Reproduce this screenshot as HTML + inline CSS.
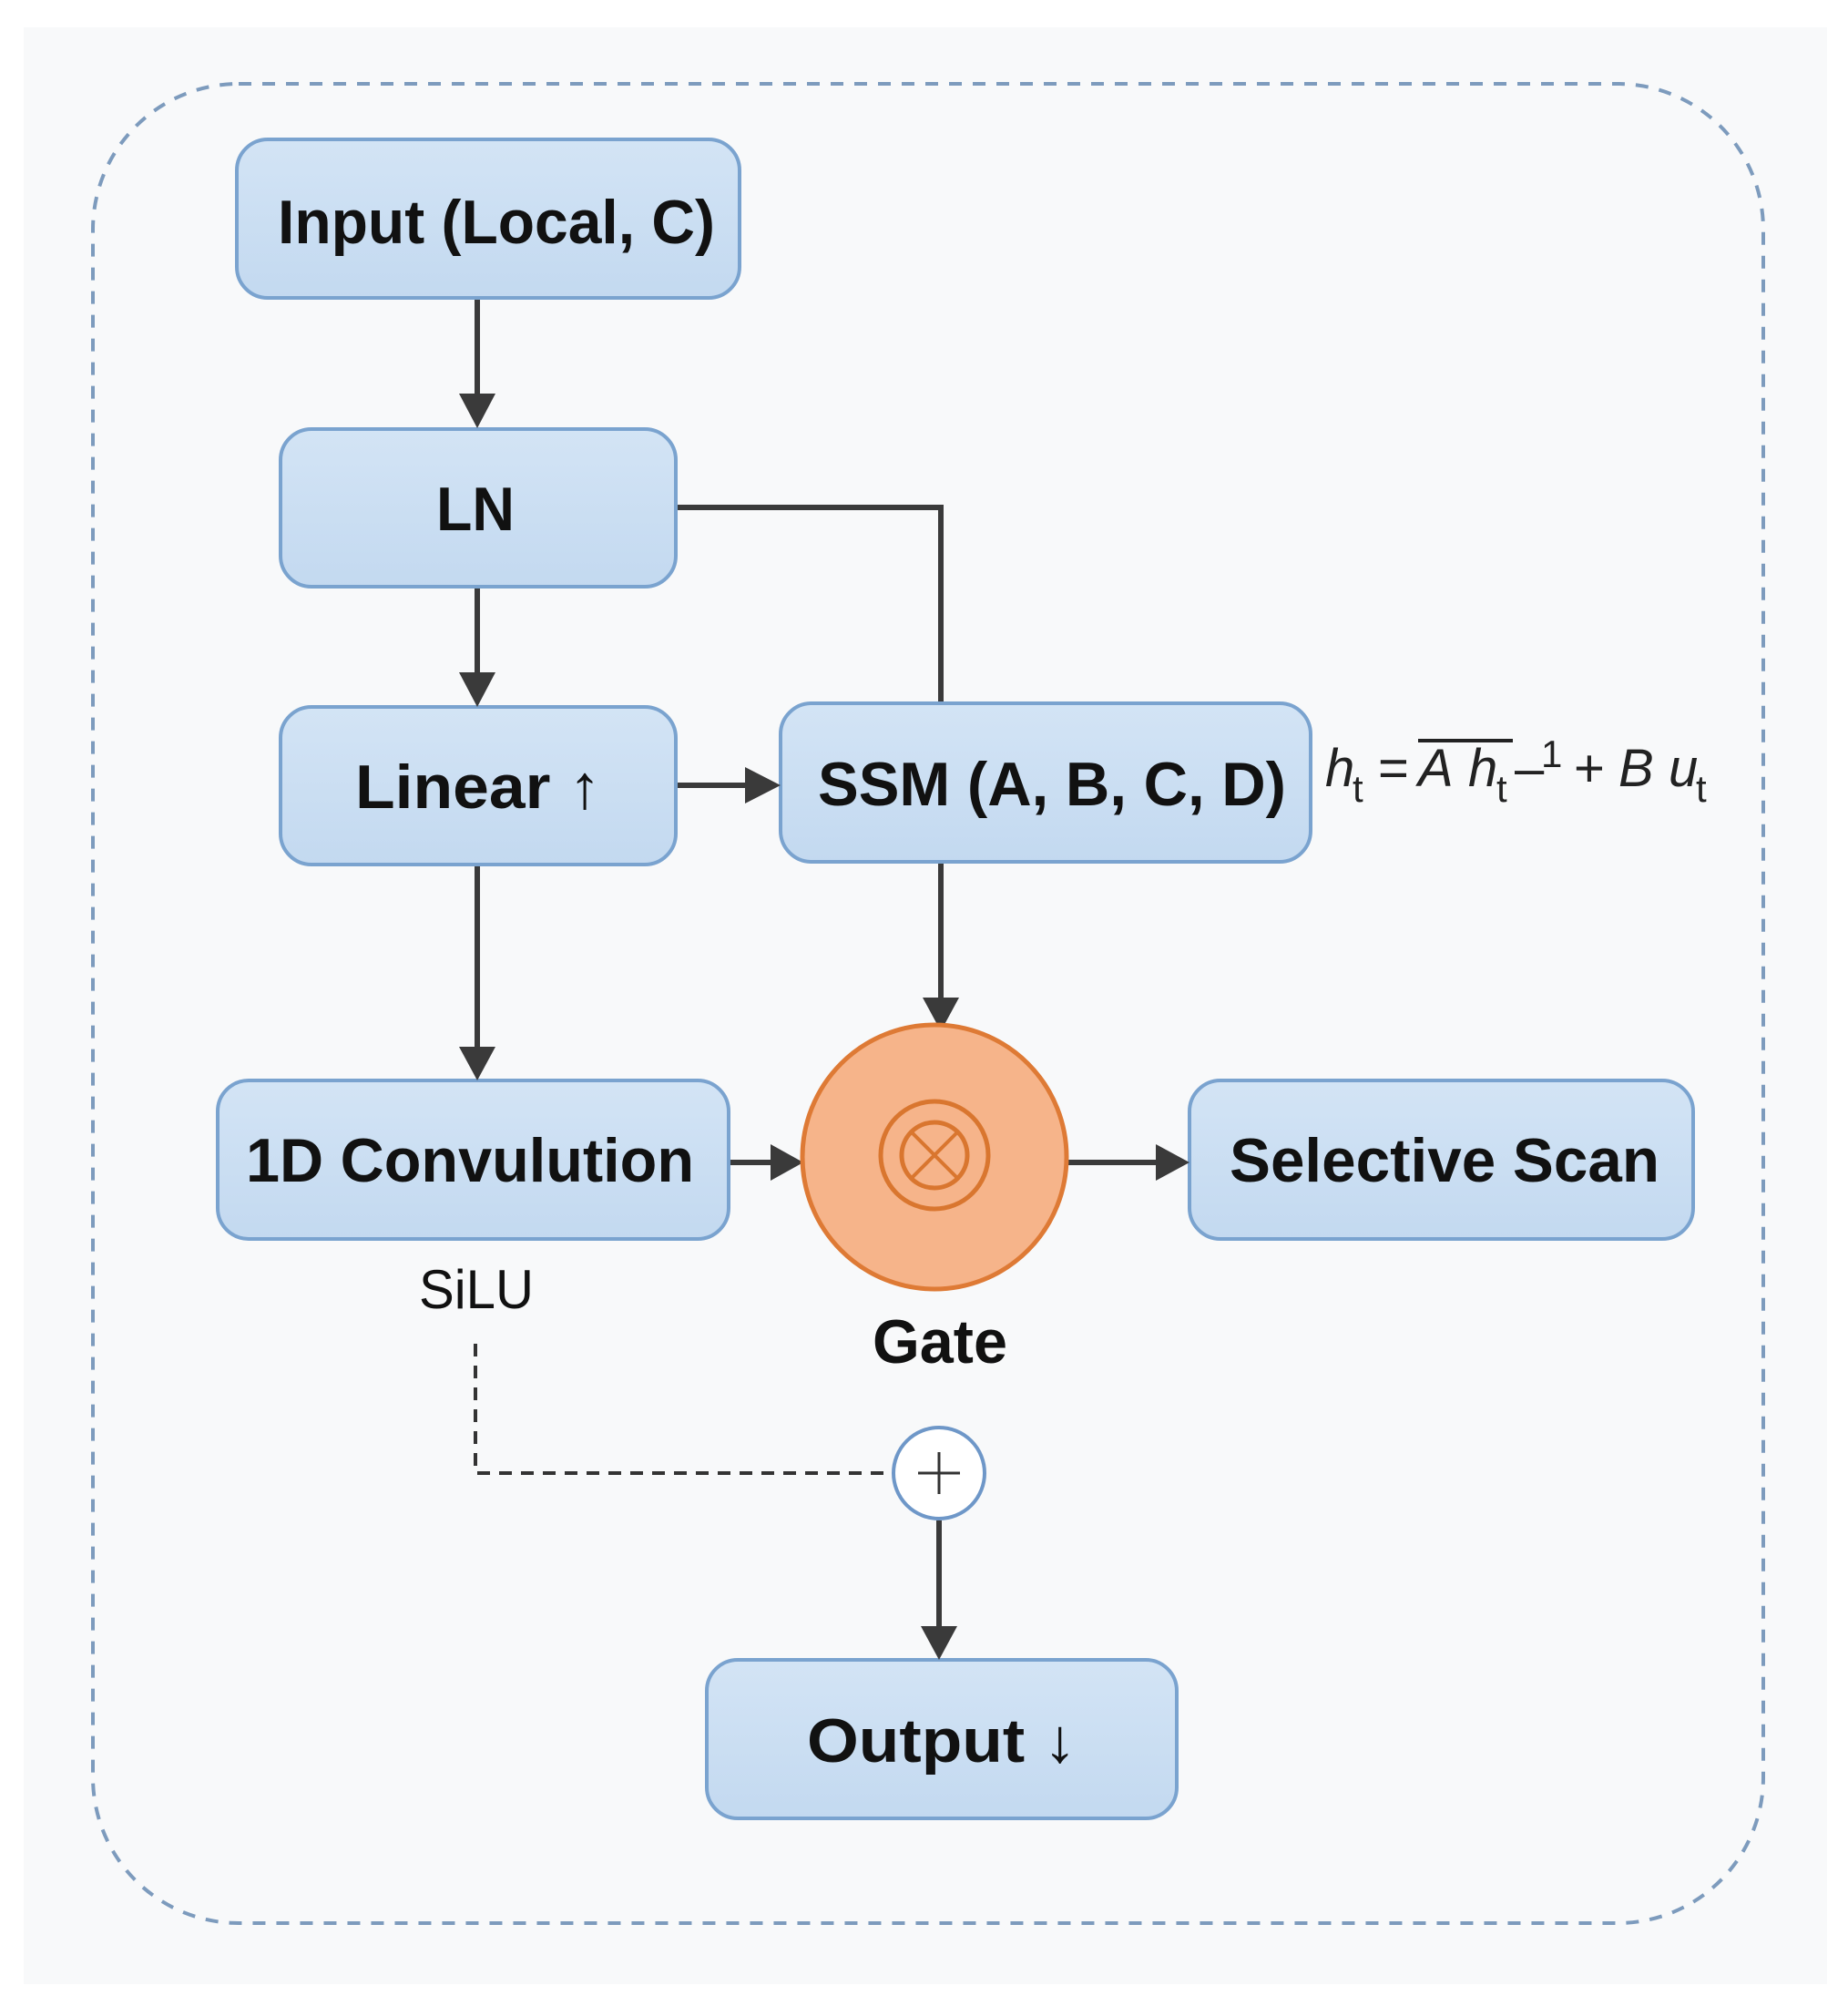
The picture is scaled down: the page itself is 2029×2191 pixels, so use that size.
<!DOCTYPE html>
<html><head><meta charset="utf-8"><style>
html,body{margin:0;padding:0;background:#fff;}
svg{display:block;}
</style></head><body>
<svg width="2029" height="2191" viewBox="0 0 2029 2191" xmlns="http://www.w3.org/2000/svg">
<defs>
<linearGradient id="bx" x1="0" y1="0" x2="0" y2="1">
<stop offset="0" stop-color="#d3e4f5"/><stop offset="1" stop-color="#c3d9f0"/>
</linearGradient>
</defs>
<rect x="26" y="30" width="1980" height="2148" fill="#f8f9fa"/>
<rect x="102" y="92" width="1834" height="2019" rx="160" ry="160" fill="none" stroke="#7d9bbd" stroke-width="4" stroke-dasharray="14 12"/>

<g fill="url(#bx)" stroke="#7aa3cf" stroke-width="4">
<rect x="260" y="153" width="552" height="174" rx="34"/>
<rect x="308" y="471" width="434" height="173" rx="34"/>
<rect x="308" y="776" width="434" height="173" rx="34"/>
<rect x="857" y="772" width="582" height="174" rx="34"/>
<rect x="239" y="1186" width="561" height="174" rx="34"/>
<rect x="1306" y="1186" width="553" height="174" rx="34"/>
<rect x="776" y="1822" width="516" height="174" rx="34"/>
</g>

<g stroke="#3a3a3a" stroke-width="6" fill="none">
<line x1="524" y1="329" x2="524" y2="432"/>
<line x1="524" y1="646" x2="524" y2="738"/>
<line x1="524" y1="951" x2="524" y2="1150"/>
<line x1="744" y1="862" x2="820" y2="862"/>
<polyline points="744,557 1033,557 1033,770"/>
<line x1="1033" y1="948" x2="1033" y2="1095"/>
<line x1="802" y1="1276" x2="848" y2="1276"/>
<line x1="1172" y1="1276" x2="1270" y2="1276"/>
<line x1="1031" y1="1669" x2="1031" y2="1785"/>
</g>
<g fill="#3a3a3a">
<polygon points="504,432 544,432 524,470"/>
<polygon points="504,738 544,738 524,776"/>
<polygon points="504,1149 544,1149 524,1186"/>
<polygon points="818,842 818,882 857,862"/>
<polygon points="1013,1095 1053,1095 1033,1132"/>
<polygon points="846,1256 846,1296 882,1276"/>
<polygon points="1269,1256 1269,1296 1306,1276"/>
<polygon points="1011,1785 1051,1785 1031,1822"/>
</g>

<circle cx="1026" cy="1270" r="145" fill="#f6b48a" stroke="#de7a35" stroke-width="5"/>
<circle cx="1026" cy="1268" r="59" fill="none" stroke="#d9762f" stroke-width="5"/>
<circle cx="1026" cy="1268" r="36" fill="none" stroke="#d9762f" stroke-width="5"/>
<line x1="1001" y1="1243" x2="1051" y2="1293" stroke="#d9762f" stroke-width="4"/>
<line x1="1051" y1="1243" x2="1001" y2="1293" stroke="#d9762f" stroke-width="4"/>

<polyline points="522,1475 522,1617 980,1617" fill="none" stroke="#333" stroke-width="4" stroke-dasharray="14 10"/>
<circle cx="1031" cy="1617" r="50" fill="#fff" stroke="#6e97c8" stroke-width="4"/>
<line x1="1008" y1="1617" x2="1054" y2="1617" stroke="#333" stroke-width="3"/>
<line x1="1031" y1="1594" x2="1031" y2="1640" stroke="#333" stroke-width="3"/>

<g font-family="Liberation Sans, sans-serif" font-weight="bold" font-size="68" fill="#111">
<text x="305" y="267" textLength="480" lengthAdjust="spacingAndGlyphs">Input (Local, C)</text>
<text x="479" y="582" textLength="86" lengthAdjust="spacingAndGlyphs">LN</text>
<text x="390" y="887" textLength="270" lengthAdjust="spacingAndGlyphs">Linear ↑</text>
<text x="898" y="884" textLength="514" lengthAdjust="spacingAndGlyphs">SSM (A, B, C, D)</text>
<text x="270" y="1297" textLength="492" lengthAdjust="spacingAndGlyphs">1D Convulution</text>
<text x="1350" y="1297" textLength="472" lengthAdjust="spacingAndGlyphs">Selective Scan</text>
<text x="886" y="1934" textLength="296" lengthAdjust="spacingAndGlyphs">Output ↓</text>
<text x="958" y="1496" textLength="148" lengthAdjust="spacingAndGlyphs">Gate</text>
</g>
<text x="460" y="1436" font-family="Liberation Sans, sans-serif" font-size="60" fill="#111" textLength="126" lengthAdjust="spacingAndGlyphs">SiLU</text>

<g font-family="Liberation Sans, sans-serif" font-style="italic" font-size="58" fill="#222">
<text x="1455" y="863">h</text>
<text x="1485" y="880" font-style="normal" font-size="42">t</text>
<text x="1513" y="863" font-style="normal">=</text>
<text x="1557" y="863">A</text>
<text x="1612" y="863">h</text>
<text x="1643" y="880" font-style="normal" font-size="42">t</text>
<text x="1663" y="863" font-style="normal">–</text>
<text x="1692" y="842" font-style="normal" font-size="42">1</text>
<text x="1728" y="863" font-style="normal">+</text>
<text x="1777" y="863">B</text>
<text x="1832" y="863">u</text>
<text x="1862" y="880" font-style="normal" font-size="42">t</text>
</g>
<line x1="1557" y1="813" x2="1661" y2="813" stroke="#222" stroke-width="4"/>
</svg>
</body></html>
